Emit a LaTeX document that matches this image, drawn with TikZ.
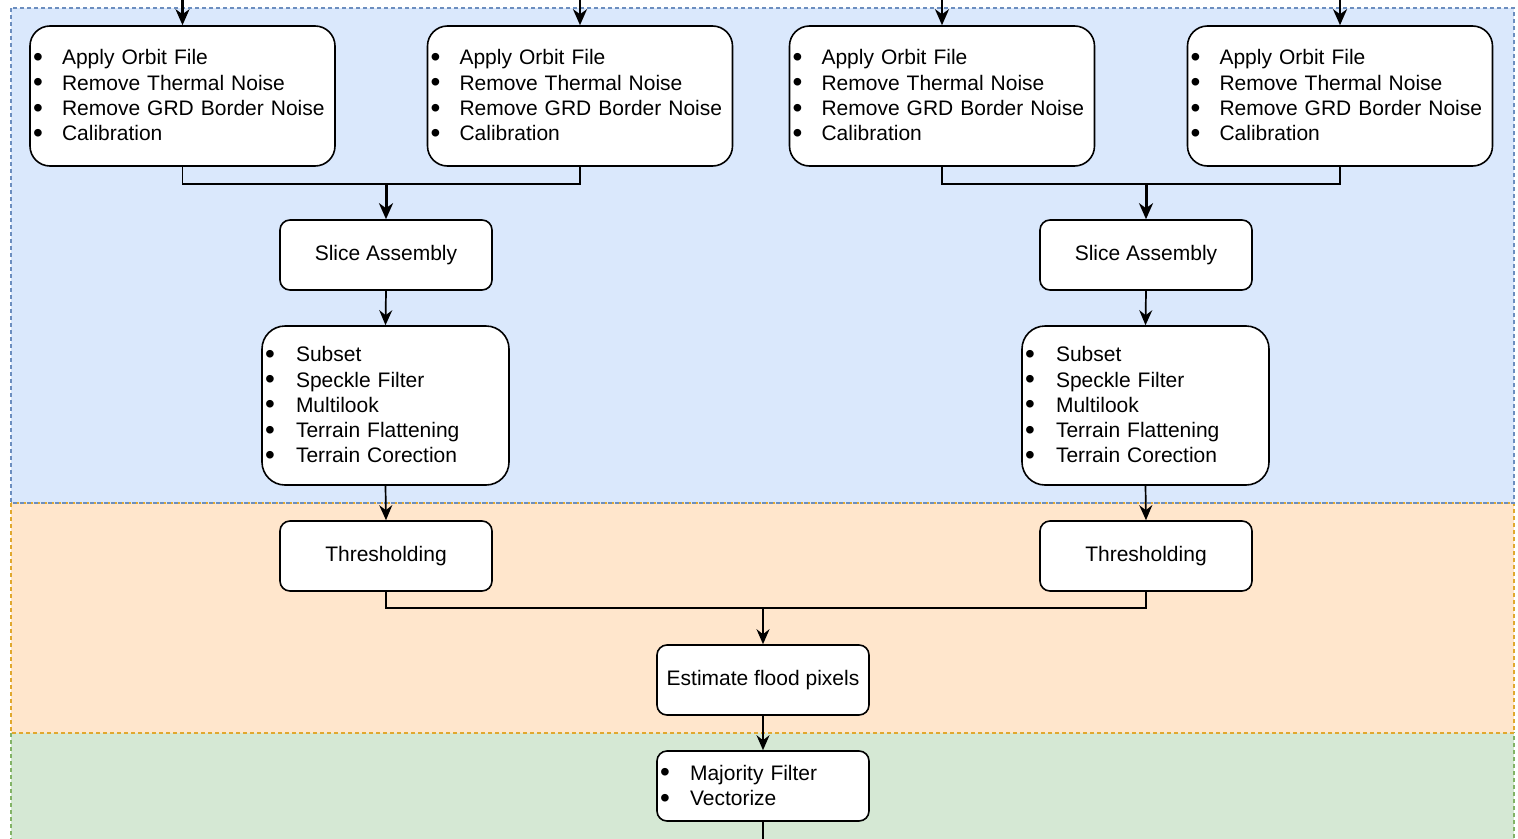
\documentclass[tikz,border=0pt]{standalone}
\usepackage{fontspec}
\setmainfont{Liberation Sans}
\usetikzlibrary{arrows.meta}
\definecolor{bfill}{HTML}{DAE8FC}
\definecolor{bline}{HTML}{6C8EBF}
\definecolor{ofill}{HTML}{FFE6CC}
\definecolor{oline}{HTML}{E0A82E}
\definecolor{gfill}{HTML}{D5E8D4}
\definecolor{gline}{HTML}{82B366}
\tikzset{
  region/.style={dash pattern=on 4pt off 3pt, line width=1.3pt},
  card/.style={draw, fill=white, line width=1.6pt, font=\fontsize{21}{25.3}\selectfont},
  bigcard/.style={card, rounded corners=20pt, align=left, inner xsep=3pt, text width=299pt, minimum height=140pt},
  midcard/.style={card, rounded corners=23pt, align=left, inner xsep=3pt, text width=241pt, minimum height=159pt},
  smallcard/.style={card, rounded corners=10pt, minimum width=212pt, minimum height=70pt},
  lowcard/.style={card, rounded corners=10pt, align=left, inner xsep=3pt, text width=206pt, minimum height=70pt},
  link/.style={line width=1.7pt},
  arrowlink/.style={line width=1.7pt, -{Stealth[length=15pt, width=13pt, inset=5pt]}},
  boldlink/.style={line width=3pt, -{Stealth[length=16pt, width=14pt, inset=5pt]}},
}
\newcommand{\bul}[1]{\makebox[#1][l]{\raisebox{-1.5pt}{\fontsize{28}{28}\selectfont\textbullet}}}
\begin{document}
\begin{tikzpicture}[x=1pt,y=-1pt]
\useasboundingbox (0,0) rectangle (1518,838);
\clip (0,0) rectangle (1518,838);
% regions
\fill[bfill] (11,8) rectangle (1514,503);
\fill[ofill] (11,503) rectangle (1514,733);
\fill[gfill] (11,733) rectangle (1514,860);
\draw[region, gline] (11,733) rectangle (1514,860);
\draw[region, oline] (11,503) rectangle (1514,733);
\draw[region, bline] (11,8) rectangle (1514,503);

% top boxes
\newcommand{\toplist}{\bul{29pt}Apply Orbit File\\\bul{29pt}Remove Thermal Noise\\\bul{29pt}Remove GRD Border Noise\\\bul{29pt}Calibration}
\node[bigcard] (a1) at (182.5,96) {\toplist};
\node[bigcard] (a2) at (580,96) {\toplist};
\node[bigcard] (a3) at (942,96) {\toplist};
\node[bigcard] (a4) at (1340,96) {\toplist};

\coordinate (i1) at (182.5,0);
\coordinate (i2) at (580,0);
\coordinate (i3) at (942,0);
\coordinate (i4) at (1340,0);
\foreach \k in {1,2,3,4}{\draw[boldlink, line width=2.2pt] (i\k) -- (a\k.north);}

% slice assembly
\node[smallcard] (s1) at (386,255) {Slice Assembly};
\node[smallcard] (s2) at (1146,255) {Slice Assembly};
\coordinate (m1) at (386,184);
\coordinate (m2) at (1146,184);
\draw[link] (a1.south) |- (m1) -| (a2.south);
\draw[link] (a3.south) |- (m2) -| (a4.south);
\draw[boldlink] (m1) -- (s1.north);
\draw[boldlink] (m2) -- (s2.north);

% processing lists
\newcommand{\midlist}{\bul{31pt}Subset\\\bul{31pt}Speckle Filter\\\bul{31pt}Multilook\\\bul{31pt}Terrain Flattening\\\bul{31pt}Terrain Corection}
\node[midcard] (p1) at (385.5,405.5) {\midlist};
\node[midcard] (p2) at (1145.5,405.5) {\midlist};
\draw[arrowlink] (s1.south) -- (p1.north);
\draw[arrowlink] (s2.south) -- (p2.north);

% thresholding
\node[smallcard] (t1) at (386,556) {Thresholding};
\node[smallcard] (t2) at (1146,556) {Thresholding};
\draw[arrowlink] (p1.south) -- (t1.north);
\draw[arrowlink] (p2.south) -- (t2.north);

\coordinate (m3) at (763,608);
\draw[link] (t1.south) |- (m3) -| (t2.south);
\node[smallcard] (e) at (763,680) {Estimate flood pixels};
\draw[arrowlink] (m3) -- (e.north);

\node[lowcard] (f) at (763,786) {\bul{30pt}Majority Filter\\\bul{30pt}Vectorize};
\draw[arrowlink] (e.south) -- (f.north);
\coordinate (out) at (763,850);
\draw[link] (f.south) -- (out);
\end{tikzpicture}
\end{document}
